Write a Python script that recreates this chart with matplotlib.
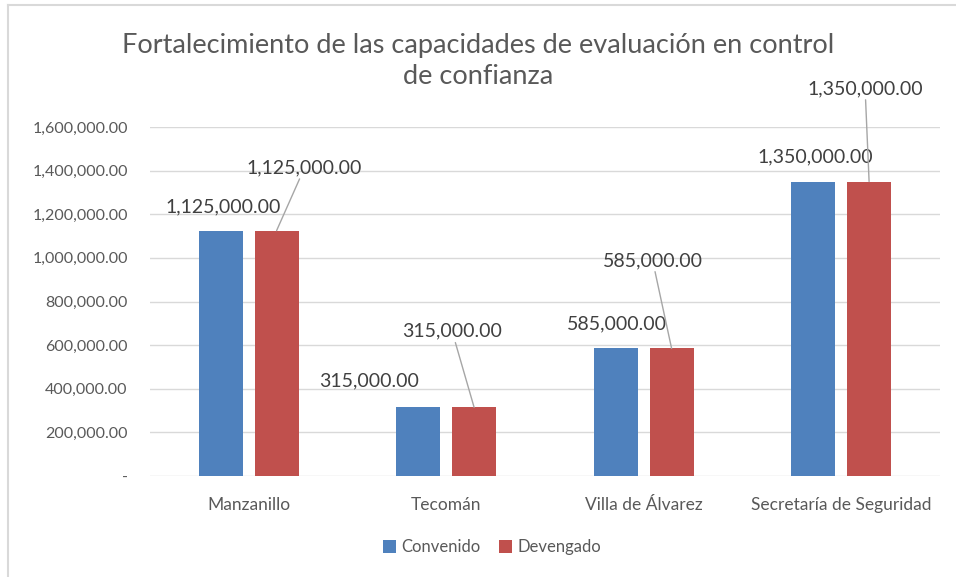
import matplotlib.pyplot as plt
from matplotlib.ticker import FuncFormatter, MultipleLocator
from matplotlib.lines import Line2D

categories = ["Manzanillo", "Tecomán", "Villa de Álvarez", "Secretaría de Seguridad"]
convenido = [1125000, 315000, 585000, 1350000]
devengado = [1125000, 315000, 585000, 1350000]

# label offsets in pixels from the bar top (manual placement as in the original)
conv_offsets = [(2, 24), (-49, 26), (1, 25), (2, 25)]
dev_offsets = [(28, 63), (-22, 76), (-19, 88), (-4, 93)]

blue = "#4F81BD"
red = "#C0504D"
text_gray = "#595959"
font = "Lato"

fig = plt.figure(figsize=(9.56, 5.77), dpi=100)
ax = fig.add_axes([150 / 956, 1 - 476 / 577, 790 / 956, (476 - 127) / 577])

x = list(range(len(categories)))
w = 0.223
off = 0.141
ax.bar([i - off for i in x], convenido, width=w, color=blue, label="Convenido", zorder=3)
ax.bar([i + off for i in x], devengado, width=w, color=red, label="Devengado", zorder=3)

def fmt(v, pos=None):
    if v == 0:
        return "-"
    return f"{v:,.2f}"

for i, v in enumerate(convenido):
    ax.annotate(fmt(v), (i - off, v), xytext=conv_offsets[i], textcoords="offset pixels",
                ha="center", va="center", fontsize=14, color="#404040", family=font)
for i, v in enumerate(devengado):
    ax.annotate(fmt(v), (i + off, v), xytext=dev_offsets[i], textcoords="offset pixels",
                ha="center", va="center", fontsize=14, color="#404040", family=font,
                arrowprops=dict(arrowstyle="-", color="#A6A6A6", lw=1, shrinkA=0, shrinkB=0))

ax.set_xlim(-0.5, 3.5)
ax.set_ylim(0, 1600000)
ax.yaxis.set_major_locator(MultipleLocator(200000))
ax.yaxis.set_major_formatter(FuncFormatter(fmt))
ax.set_xticks(x)
ax.set_xticklabels(categories)
ax.grid(axis="y", color="#D9D9D9", lw=1, zorder=0)
for s in ax.spines.values():
    s.set_visible(False)
ax.tick_params(axis="both", length=0, colors=text_gray)
ax.tick_params(axis="y", pad=16, labelsize=11.5)
ax.tick_params(axis="x", pad=15, labelsize=12.5)
for t in ax.get_xticklabels() + ax.get_yticklabels():
    t.set_family(font)

# title, one text per line
fig.text(0.5, 1 - 45 / 577, "Fortalecimiento de las capacidades de evaluación en control",
         ha="center", va="center", fontsize=19.5, color=text_gray, family=font)
fig.text(0.5, 1 - 77 / 577, "de confianza",
         ha="center", va="center", fontsize=19.5, color=text_gray, family=font)

ax.legend(loc="center", bbox_to_anchor=(492 / 956, 1 - 547 / 577), bbox_transform=fig.transFigure,
          ncol=2, frameon=False, handlelength=0.8, handleheight=0.8, handletextpad=0.3,
          columnspacing=1.1, prop={"family": font, "size": 12}, labelcolor=text_gray)

# chart border (top and left edges visible in the crop)
fig.add_artist(Line2D([8 / 956, 1], [1 - 5 / 577, 1 - 5 / 577], transform=fig.transFigure, color="#D9D9D9", lw=1.5))
fig.add_artist(Line2D([8 / 956, 8 / 956], [0, 1 - 5 / 577], transform=fig.transFigure, color="#D9D9D9", lw=1.5))

fig.savefig("out.png", dpi=100)
